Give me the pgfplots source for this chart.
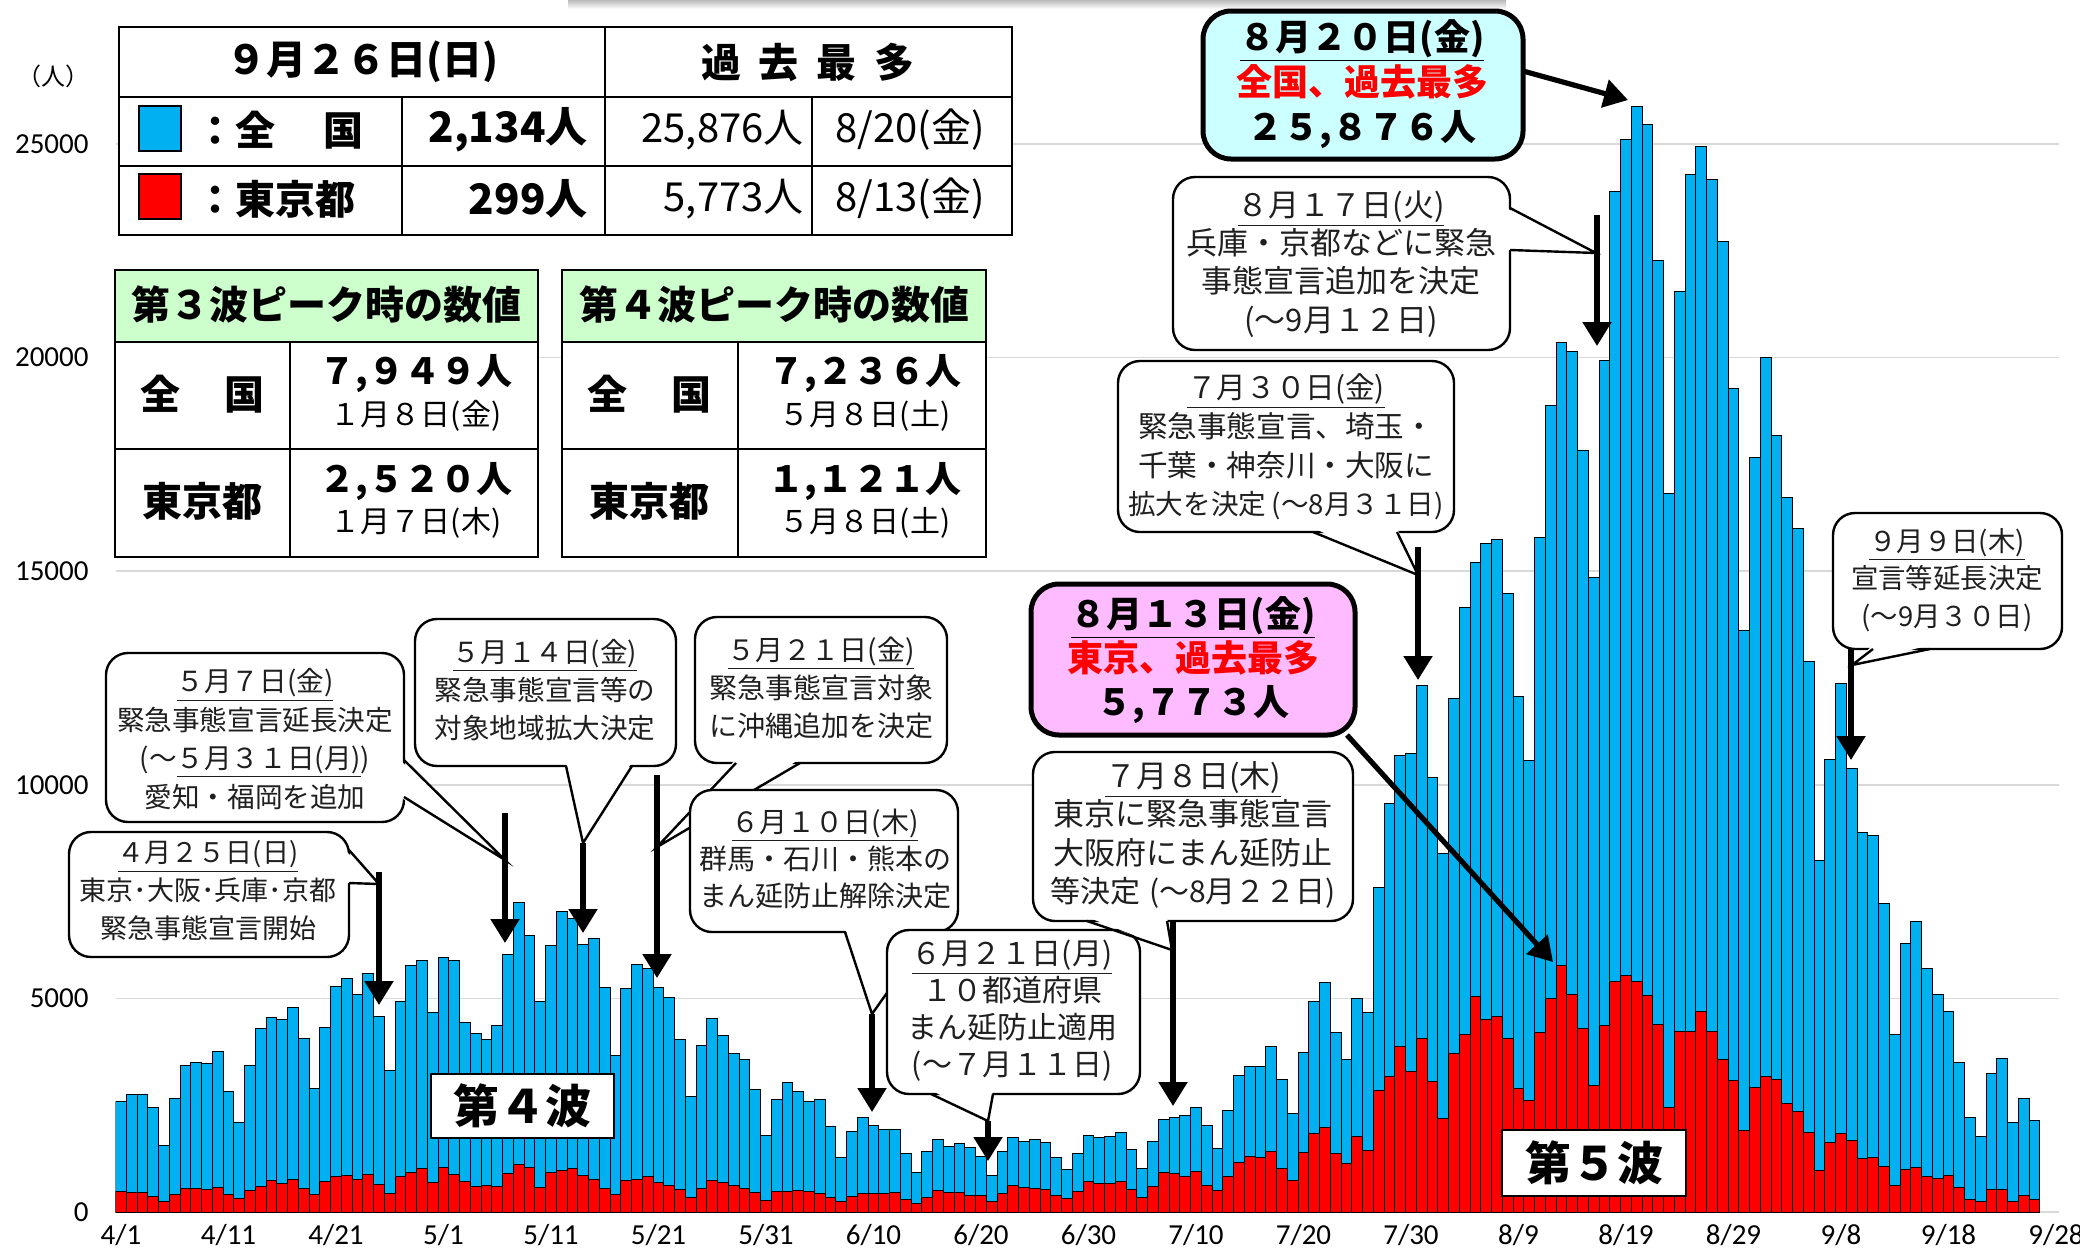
\documentclass[border=0pt]{standalone}
\usepackage{pgfplots}
\pgfplotsset{compat=1.18}
\usepackage{pgfplotstable}
\usepackage{fontspec}
\usetikzlibrary{arrows.meta,calc}
\setmainfont{Noto Sans CJK JP}
\newfontfamily\carlito{Carlito}
\definecolor{natc}{RGB}{0,176,240}
\definecolor{tokc}{RGB}{255,0,0}
\definecolor{gridg}{RGB}{217,217,217}
\definecolor{cyanbox}{RGB}{204,255,255}
\definecolor{pinkbox}{RGB}{255,187,255}
\definecolor{greenhd}{RGB}{204,255,204}
\newcommand\fs[2]{\fontsize{#1}{#2}\selectfont}

\pgfplotstableread{
d nat tok
0 2586 475
1 2742 446
2 2758 446
3 2454 355
4 1558 249
5 2656 399
6 3435 555
7 3490 545
8 3467 537
9 3747 570
10 2828 421
11 2088 306
12 3435 510
13 4292 591
14 4557 729
15 4503 667
16 4783 759
17 4066 543
18 2898 405
19 4323 711
20 5274 843
21 5476 861
22 5095 759
23 5578 876
24 4588 635
25 3303 425
26 4939 828
27 5772 925
28 5889 1027
29 4674 698
30 5967 1050
31 5889 879
32 4448 708
33 4183 609
34 4043 621
35 4355 591
36 6029 907
37 7236 1121
38 6474 1032
39 4930 573
40 6240 925
41 7045 969
42 6873 1010
43 6256 854
44 6412 772
45 5256 542
46 3671 419
47 5225 732
48 5787 766
49 5709 843
50 5248 695
51 5030 620
52 4030 535
53 2694 340
54 3897 543
55 4530 743
56 4131 684
57 3702 614
58 3577 539
59 2866 449
60 1788 260
61 2632 471
62 3030 487
63 2819 508
64 2593 472
65 2640 436
66 2007 351
67 1265 235
68 1874 369
69 2218 440
70 2031 439
71 1937 435
72 1937 467
73 1375 304
74 922 209
75 1406 337
76 1695 501
77 1539 452
78 1609 453
79 1507 388
80 1296 376
81 848 236
82 1414 435
83 1755 619
84 1658 570
85 1697 562
86 1619 534
87 1268 386
88 995 317
89 1365 476
90 1794 714
91 1736 673
92 1765 660
93 1862 716
94 1463 518
95 1024 342
96 1658 593
97 2174 920
98 2223 896
99 2252 822
100 2438 950
101 2018 614
102 1482 502
103 2369 830
104 3188 1149
105 3403 1308
106 3413 1271
107 3871 1410
108 3091 1008
109 2311 727
110 3744 1387
111 4924 1832
112 5382 1979
113 4212 1359
114 3559 1128
115 5002 1763
116 4680 1429
117 7605 2848
118 9565 3177
119 10686 3865
120 10735 3300
121 12334 4058
122 10170 3058
123 8394 2195
124 12016 3709
125 14162 4166
126 15210 5042
127 15638 4515
128 15752 4566
129 14467 4066
130 12067 2884
131 10575 2612
132 15800 4200
133 18886 4989
134 20343 5773
135 20133 5094
136 17819 4295
137 14857 2962
138 19943 4377
139 23895 5386
140 25114 5534
141 25876 5405
142 25457 5074
143 22276 4392
144 16829 2447
145 21543 4220
146 24286 4228
147 24933 4704
148 24170 4227
149 22720 3581
150 19276 3081
151 13617 1915
152 17670 2909
153 20001 3168
154 18188 3099
155 16725 2539
156 15999 2362
157 12892 1853
158 8230 968
159 10600 1629
160 12374 1834
161 10392 1675
162 8877 1242
163 8812 1273
164 7219 1067
165 4163 611
166 6287 1004
167 6805 1052
168 5710 831
169 5090 782
170 4694 862
171 3491 570
172 2218 302
173 1757 253
174 3233 537
175 3600 531
176 2085 235
177 2663 383
178 2134 299
}\dailydata

\tikzset{
  bub/.style={draw=black, line width=1.2pt, fill=white, rounded corners=11pt},
  bl/.style={draw=black, line width=1.2pt, line join=miter},
  arr/.style={line width=2.6pt, -{Triangle[width=14pt,length=12pt]}},
  txt/.style={align=center, inner sep=0pt, text=black!88, font=\fs{14}{19.2}},
  tn/.style={inner sep=0pt},
}
\newcommand\tail[4]{\fill[white] ($#1+#4$) -- #3 -- ($#2+#4$) -- cycle; \draw[bl] #1 -- #3 -- #2;}

\begin{document}
\begin{tikzpicture}
\begin{axis}[
  at={(60.5pt,-606pt)}, anchor=origin,
  x=5.375pt, y=0.02136pt,
  xmin=-0.5, xmax=180.3, ymin=0, ymax=28000,
  axis line style={draw=none},
  major tick length=0pt,
  ymajorgrids, grid style={draw=gridg, line width=0.8pt},
  ytick={0,5000,10000,15000,20000,25000},
  yticklabels={0,5000,10000,15000,20000,25000},
  xtick={0,10,...,180},
  xticklabels={4/1,4/11,4/21,5/1,5/11,5/21,5/31,6/10,6/20,6/30,7/10,7/20,7/30,8/9,8/19,8/29,9/8,9/18,9/28},
  ticklabel style={font=\carlito\fs{14.5}{16}},
  yticklabel style={xshift=-10pt},
  xticklabel style={yshift=-2.5pt},
]
\addplot[ybar, bar width=5.375pt, bar shift=0pt, fill=natc, draw=black, line width=0.5pt] table[x=d,y=nat]{\dailydata};
\addplot[ybar, bar width=5.375pt, bar shift=0pt, fill=tokc, draw=black, line width=0.5pt] table[x=d,y=tok]{\dailydata};
\end{axis}

\begin{scope}[x=0.5pt, y=-0.5pt]
% top band
\shade[top color=gray!55, bottom color=white] (568,0) rectangle (1506,9);
% unit
\node[tn, font=\fs{12}{14}] at (54,76) {（人）};

% ---- top table
\draw[line width=1.2pt, fill=white] (119,27) rectangle (1012,235);
\draw[line width=1.2pt] (119,97) -- (1012,97) (119,166) -- (1012,166) (605,27) -- (605,235) (402,97) -- (402,235) (812,97) -- (812,235);
\node[tn, font=\bfseries\fs{20}{20}] at (362,62) {９月２６日(日)};
\node[tn, font=\bfseries\fs{20}{20}] at (808,62) {過\hspace{0.45em}去\hspace{0.45em}最\hspace{0.45em}多};
\filldraw[fill=natc, draw=black, line width=0.8pt] (139,106) rectangle (181,151);
\node[tn, anchor=west, font=\bfseries\fs{20}{20}] at (195,130) {：全\hspace{1.2em}国};
\node[tn, anchor=east, font=\bfseries\fs{21}{21}] at (588,130) {2,134人};
\node[tn, anchor=east, font=\fs{20}{20}] at (804,130) {25,876人};
\node[tn, font=\fs{20}{20}] at (910,130) {8/20(金)};
\filldraw[fill=tokc, draw=black, line width=0.8pt] (139,174) rectangle (181,219);
\node[tn, anchor=west, font=\bfseries\fs{20}{20}] at (195,199) {：東京都};
\node[tn, anchor=east, font=\bfseries\fs{21}{21}] at (588,199) {299人};
\node[tn, anchor=east, font=\fs{20}{20}] at (804,199) {5,773人};
\node[tn, font=\fs{20}{20}] at (910,199) {8/13(金)};

% ---- wave tables
\fill[white] (115,270) rectangle (538,557);
\fill[greenhd] (115,270) rectangle (538,342);
\draw[line width=1.2pt] (115,270) rectangle (538,557) (115,342)--(538,342) (115,449)--(538,449) (290,342)--(290,557);
\node[tn, font=\bfseries\fs{19.5}{20}] at (326,305) {第３波ピーク時の数値};
\node[tn, font=\bfseries\fs{20}{20}] at (202,394) {全\hspace{1.1em}国};
\node[tn, font=\bfseries\fs{20}{20}] at (202,501) {東京都};
\node[tn, font=\bfseries\fs{18}{18}] at (416,374) {７,９４９人};
\node[tn, font=\fs{15}{15}] at (416,416) {１月８日(金)};
\node[tn, font=\bfseries\fs{18}{18}] at (416,482) {２,５２０人};
\node[tn, font=\fs{15}{15}] at (416,523) {１月７日(木)};

\fill[white] (562,270) rectangle (986,557);
\fill[greenhd] (562,270) rectangle (986,342);
\draw[line width=1.2pt] (562,270) rectangle (986,557) (562,342)--(986,342) (562,449)--(986,449) (738,342)--(738,557);
\node[tn, font=\bfseries\fs{19.5}{20}] at (774,305) {第４波ピーク時の数値};
\node[tn, font=\bfseries\fs{20}{20}] at (649,394) {全\hspace{1.1em}国};
\node[tn, font=\bfseries\fs{20}{20}] at (649,501) {東京都};
\node[tn, font=\bfseries\fs{18}{18}] at (865,374) {７,２３６人};
\node[tn, font=\fs{15}{15}] at (865,416) {５月８日(土)};
\node[tn, font=\bfseries\fs{18}{18}] at (865,482) {１,１２１人};
\node[tn, font=\fs{15}{15}] at (865,523) {５月８日(土)};

% ---- 4/25
\draw[bub] (69,832) rectangle (349,957);
\tail{(349,850)}{(349,883)}{(379,884)}{(-4,0)}
\draw[arr] (379,872) -- (379,1005);
\node[txt, font=\fs{13.5}{19}] at (208,891) {\underline{４月２５日(日)}\\東京･大阪･兵庫･京都\\緊急事態宣言開始};

% ---- 5/7
\draw[bub] (106,653) rectangle (404,822);
\tail{(404,760)}{(404,797)}{(505,860)}{(-4,0)}
\draw[arr] (505,813) -- (505,943);
\node[txt, font=\fs{13.8}{19.2}] at (255,739) {\underline{５月７日(金)}\\緊急事態宣言延長決定\\(～\underline{５月３１日(月)})\\愛知・福岡を追加};

% ---- 5/14
\draw[bub] (415,619) rectangle (676,766);
\tail{(566,766)}{(632,766)}{(583,843)}{(0,-4)}
\draw[arr] (583,843) -- (583,933);
\node[txt, font=\fs{13.8}{19}] at (545,690) {\underline{５月１４日(金)}\\緊急事態宣言等の\\対象地域拡大決定};

% ---- 5/21
\draw[bub] (695,617) rectangle (947,763);
\tail{(736,763)}{(800,763)}{(657,847)}{(0,-4)}
\draw[arr] (657,775) -- (657,978);
\node[txt, font=\fs{14}{19}] at (821,688) {\underline{５月２１日(金)}\\緊急事態宣言対象\\に沖縄追加を決定};

% ---- 6/10
\draw[bub] (690,790) rectangle (958,932);
\tail{(845,932)}{(930,932)}{(872,1014)}{(0,-4)}
\draw[arr] (872,1014) -- (872,1112);
\node[txt, font=\fs{14}{18.5}] at (825,859) {\underline{６月１０日(木)}\\群馬・石川・熊本の\\まん延防止解除決定};

% ---- 6/21
\draw[bub] (887,930) rectangle (1140,1094);
\tail{(931,1094)}{(993,1094)}{(988,1121)}{(0,-4)}
\draw[arr] (988,1121) -- (988,1161);
\node[txt, font=\fs{15}{18.5}] at (1012,1011) {\underline{６月２１日(月)}\\１０都道府県\\まん延防止適用\\(～７月１１日)};

% ---- 7/8
\draw[bub] (1033,752) rectangle (1353,921);
\tail{(1087,921)}{(1167,921)}{(1172,950)}{(0,-4)}
\draw[arr] (1173,921) -- (1173,1106);
\node[txt, font=\fs{15.5}{19.2}] at (1193,835) {\underline{７月８日(木)}\\東京に緊急事態宣言\\大阪府にまん延防止\\{\fs{15}{19.2}等決定\hspace{0.3em}(～8月２２日)}};

% ---- 7/30
\draw[bub] (1118,361) rectangle (1454,532);
\tail{(1313,532)}{(1397,532)}{(1418,575)}{(0,-4)}
\draw[arr] (1418,547) -- (1418,680);
\node[txt, font=\fs{14.8}{19.3}] at (1286,447) {\underline{７月３０日(金)}\\緊急事態宣言、埼玉・\\千葉・神奈川・大阪に\\{\fs{13.8}{19.3}拡大を決定\hspace{0.2em}(～8月３１日)}};

% ---- 8/17
\draw[bub] (1173,177) rectangle (1510,350);
\tail{(1510,208)}{(1510,250)}{(1596,253)}{(-4,0)}
\draw[arr] (1597,215) -- (1597,346);
\node[txt, font=\fs{15.5}{19.2}] at (1341,264) {\underline{８月１７日(火)}\\兵庫・京都などに緊急\\事態宣言追加を決定\\(～9月１２日)};

% ---- 9/9
\draw[bub] (1833,513) rectangle (2062,649);
\tail{(1873,649)}{(1930,649)}{(1852,665)}{(0,-4)}
\draw[arr] (1851,649) -- (1851,760);
\node[txt, font=\fs{13.7}{18.7}] at (1947,580) {\underline{９月９日(木)}\\宣言等延長決定\\(～9月３０日)};

% ---- 8/20 big box
\draw[line width=2.5pt, fill=cyanbox, rounded corners=14pt] (1203,11) rectangle (1523,159);
\draw[line width=2.6pt, -{Triangle[width=14pt,length=12pt]}] (1523,71) -- (1628,100);
\node[tn, align=center, font=\bfseries\fs{18}{22.5}] at (1362,84) {\underline{８月２０日(金)}\\\textcolor{red}{全国、過去最多}\\２５,８７６人};

% ---- 8/13 big box
\draw[line width=2.5pt, fill=pinkbox, rounded corners=14pt] (1031,584) rectangle (1355,735);
\draw[line width=2.6pt, -{Triangle[width=14pt,length=12pt]}] (1347,735) -- (1553,962);
\node[tn, align=center, font=\bfseries\fs{18}{22}] at (1193,660) {\underline{８月１３日(金)}\\\textcolor{red}{東京、過去最多}\\５,７７３人};

% ---- wave labels
\node[draw=black, line width=1pt, fill=white, minimum width=91.5pt, minimum height=32pt, font=\bfseries\fs{23}{23}] at (522,1106) {第４波};
\node[draw=black, line width=1pt, fill=white, minimum width=92pt, minimum height=33pt, font=\bfseries\fs{23}{23}] at (1594,1163) {第５波};

\pgfresetboundingbox
\useasboundingbox (0,0) rectangle (2080,1253);
\end{scope}
\end{tikzpicture}
\end{document}
